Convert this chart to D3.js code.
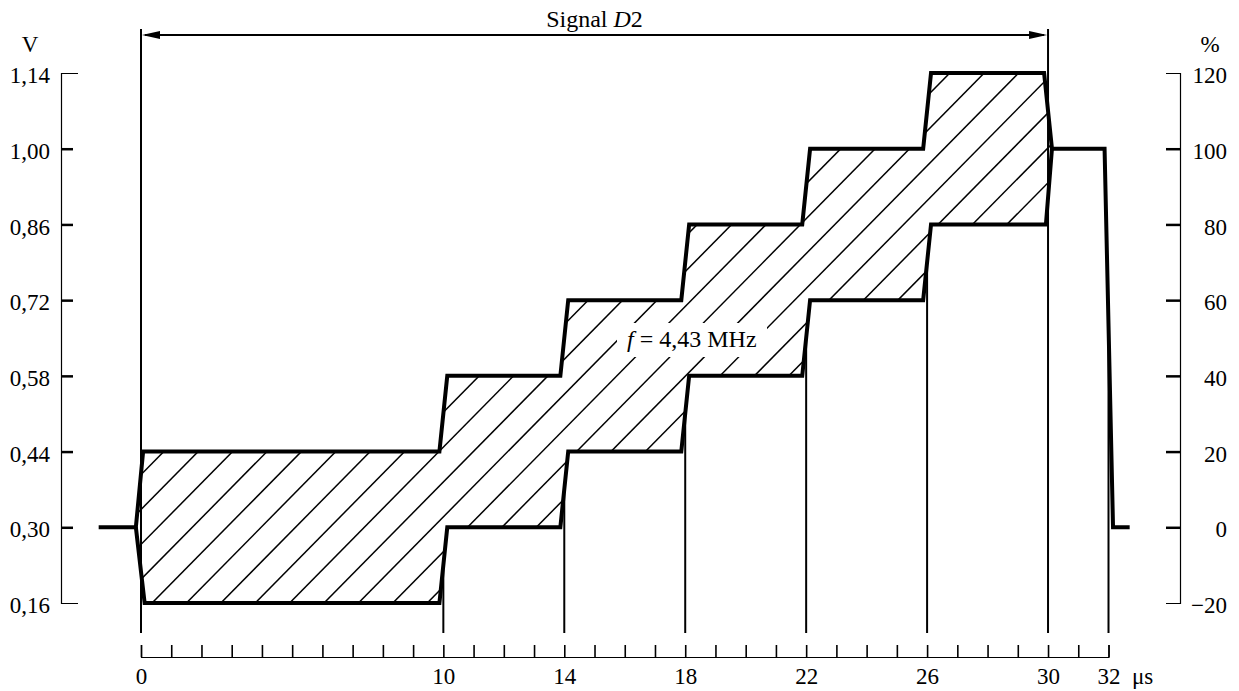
<!DOCTYPE html>
<html>
<head>
<meta charset="utf-8">
<script src="https://cdn.jsdelivr.net/npm/d3@7"></script>
<style>
  html, body { margin: 0; padding: 0; background: #fff; }
  svg { display: block; font-family: "Liberation Serif", "Times New Roman", serif; }
</style>
</head>
<body>
<div id="chart"></div>
<script>
// Step signal D2: stair envelope with 4.43 MHz burst (hatched)
const stepTimes = [0, 10, 14, 18, 22, 26, 30];          // µs
const upperLevels = [0.44, 0.58, 0.72, 0.86, 1.00, 1.14]; // V, per segment
const lowerLevels = [0.16, 0.30, 0.44, 0.58, 0.72, 0.86]; // V, per segment
const blankLevel = 0.30;
const whiteLevel = 1.00;
const leadInStart = -1.4;   // µs, baseline before the burst
const burstOpen = -0.17;    // µs, envelope starts opening
const whiteEnd = 31.87;     // µs, falling edge start
const fallEnd = 32.15;      // µs, falling edge end
const tailEnd = 32.7;       // µs

const voltTicks = [0.16, 0.30, 0.44, 0.58, 0.72, 0.86, 1.00, 1.14];
const pctTicks = [-20, 0, 20, 40, 60, 80, 100, 120];
const timeTicks = d3.range(0, 33);
const timeLabels = [0, 10, 14, 18, 22, 26, 30, 32];

const width = 1239;
const height = 691;
const edge = 0.13; // half width of each step edge, µs
const tickFont = 23;
const noteFont = 24;

const x = d3.scaleLinear().domain([0, 32]).range([141, 1108.5]);
const y = d3.scaleLinear().domain([0.16, 1.14]).range([603, 73]);
const yPct = d3.scaleLinear().domain([-20, 120]).range([603, 73]);

const svg = d3.select("#chart")
  .append("svg")
  .attr("width", width)
  .attr("height", height)
  .attr("viewBox", `0 0 ${width} ${height}`);

// envelope points
const upper = [[burstOpen, blankLevel], [0.07, upperLevels[0]]];
const lower = [[burstOpen, blankLevel], [0.12, lowerLevels[0]]];
for (let i = 1; i < upperLevels.length; i++) {
  const t = stepTimes[i];
  upper.push([t - edge, upperLevels[i - 1]], [t + edge, upperLevels[i]]);
  lower.push([t - edge, lowerLevels[i - 1]], [t + edge, lowerLevels[i]]);
}
const tEnd = stepTimes[stepTimes.length - 1];
upper.push([tEnd - edge, upperLevels[upperLevels.length - 1]], [tEnd + edge, whiteLevel]);
lower.push([tEnd - 0.07, lowerLevels[lowerLevels.length - 1]], [tEnd + edge, whiteLevel]);

const line = d3.line().x(d => x(d[0])).y(d => y(d[1]));

// hatch clip
svg.append("clipPath")
  .attr("id", "burst-clip")
  .append("path")
  .attr("d", line(upper.concat(lower.slice().reverse())) + "Z");

const hatchSlope = 0.986;
const hatchStep = 34.4;
const hatchBase = 746.6;
const hatchG = svg.append("g").attr("clip-path", "url(#burst-clip)");
hatchG.selectAll("line")
  .data(d3.range(-25, 15))
  .join("line")
  .attr("x1", k => hatchBase + k * hatchStep)
  .attr("y1", 0)
  .attr("x2", k => hatchBase + k * hatchStep - hatchSlope * 700)
  .attr("y2", 700)
  .attr("stroke", "#000")
  .attr("stroke-width", 1.5);

// label with white knock-out
svg.append("rect")
  .attr("x", 617).attr("y", 323)
  .attr("width", 150).attr("height", 34)
  .attr("fill", "#fff");
const fLabel = svg.append("text")
  .attr("x", 627).attr("y", 347)
  .attr("font-size", noteFont);
fLabel.append("tspan").attr("font-style", "italic").text("f");
fLabel.append("tspan").text(" = 4,43 MHz");

// vertical reference lines
svg.selectAll("line.vfull")
  .data([stepTimes[0], tEnd])
  .join("line")
  .attr("class", "vfull")
  .attr("x1", d => x(d)).attr("x2", d => x(d))
  .attr("y1", 29).attr("y2", 633)
  .attr("stroke", "#000").attr("stroke-width", 2);

svg.selectAll("line.vstep")
  .data(stepTimes.slice(1, -1).map((t, i) => [t, (lowerLevels[i] + lowerLevels[i + 1]) / 2]))
  .join("line")
  .attr("class", "vstep")
  .attr("x1", d => x(d[0])).attr("x2", d => x(d[0]))
  .attr("y1", d => y(d[1])).attr("y2", 633)
  .attr("stroke", "#000").attr("stroke-width", 2);

svg.append("line")
  .attr("x1", x(32)).attr("x2", x(32))
  .attr("y1", y(0.68)).attr("y2", 633)
  .attr("stroke", "#000").attr("stroke-width", 2);

// signal outline
const outlineUpper = [[leadInStart, blankLevel]].concat(upper, [
  [whiteEnd, whiteLevel], [fallEnd, blankLevel], [tailEnd, blankLevel]
]);
svg.append("path")
  .attr("d", line(outlineUpper))
  .attr("fill", "none").attr("stroke", "#000")
  .attr("stroke-width", 4).attr("stroke-linejoin", "miter");
svg.append("path")
  .attr("d", line(lower))
  .attr("fill", "none").attr("stroke", "#000")
  .attr("stroke-width", 4).attr("stroke-linejoin", "miter");

// top dimension arrow
const arrowY = 35;
svg.append("line")
  .attr("x1", x(0) + 4).attr("x2", x(tEnd) - 4)
  .attr("y1", arrowY).attr("y2", arrowY)
  .attr("stroke", "#000").attr("stroke-width", 2);
svg.append("path")
  .attr("d", `M${x(0) + 1},${arrowY}L${x(0) + 19},${arrowY - 4}L${x(0) + 19},${arrowY + 4}Z`)
  .attr("fill", "#000");
svg.append("path")
  .attr("d", `M${x(tEnd) - 1},${arrowY}L${x(tEnd) - 19},${arrowY - 4}L${x(tEnd) - 19},${arrowY + 4}Z`)
  .attr("fill", "#000");
const title = svg.append("text")
  .attr("x", (x(0) + x(tEnd)) / 2).attr("y", 27)
  .attr("text-anchor", "middle")
  .attr("font-size", noteFont);
title.append("tspan").text("Signal ");
title.append("tspan").attr("font-style", "italic").text("D");
title.append("tspan").text("2");

// left voltage axis
const commaFmt = d => d3.format(".2f")(d).replace(".", ",");
const leftAxis = svg.append("g")
  .attr("transform", "translate(61,0)")
  .call(d3.axisRight(y).tickValues(voltTicks).tickSize(12).tickSizeOuter(17).tickFormat(commaFmt));
leftAxis.select(".domain").attr("stroke-width", 1.2);
leftAxis.selectAll(".tick line").attr("stroke-width", 2.5)
  .filter(d => d === voltTicks[0] || d === voltTicks[voltTicks.length - 1]).remove();
leftAxis.selectAll(".tick text")
  .attr("x", -11).attr("dy", "0.42em").attr("text-anchor", "end")
  .attr("font-family", "Liberation Serif, serif").attr("font-size", tickFont).attr("fill", "#000");

// right percent axis
const rightAxis = svg.append("g")
  .attr("transform", "translate(1180,0)")
  .call(d3.axisLeft(yPct).tickValues(pctTicks).tickSize(14).tickSizeOuter(14).tickFormat(d3.format("d")));
rightAxis.select(".domain").attr("stroke-width", 1.2);
rightAxis.selectAll(".tick line").attr("stroke-width", 2.5)
  .filter(d => d === pctTicks[0] || d === pctTicks[pctTicks.length - 1]).remove();
rightAxis.selectAll(".tick text")
  .attr("x", 47).attr("dy", "0.42em").attr("text-anchor", "end")
  .attr("font-family", "Liberation Serif, serif").attr("font-size", tickFont).attr("fill", "#000");

// bottom time axis
const bottomAxis = svg.append("g")
  .attr("transform", "translate(0,657)")
  .call(d3.axisTop(x).tickValues(timeTicks).tickSize(12).tickSizeOuter(12)
    .tickFormat(d => timeLabels.includes(d) ? d : ""));
bottomAxis.select(".domain").attr("stroke-width", 1.2);
bottomAxis.selectAll(".tick line").attr("stroke-width", 1.6);
bottomAxis.selectAll(".tick text")
  .attr("y", 27).attr("dy", 0)
  .attr("font-family", "Liberation Serif, serif").attr("font-size", tickFont).attr("fill", "#000");

// unit labels
svg.append("text").attr("x", 30).attr("y", 52).attr("text-anchor", "middle")
  .attr("font-size", tickFont).text("V");
svg.append("text").attr("x", 1210).attr("y", 52).attr("text-anchor", "middle")
  .attr("font-size", tickFont).text("%");
svg.append("text").attr("x", 1132).attr("y", 684)
  .attr("font-size", tickFont).text("μs");
</script>
</body>
</html>
